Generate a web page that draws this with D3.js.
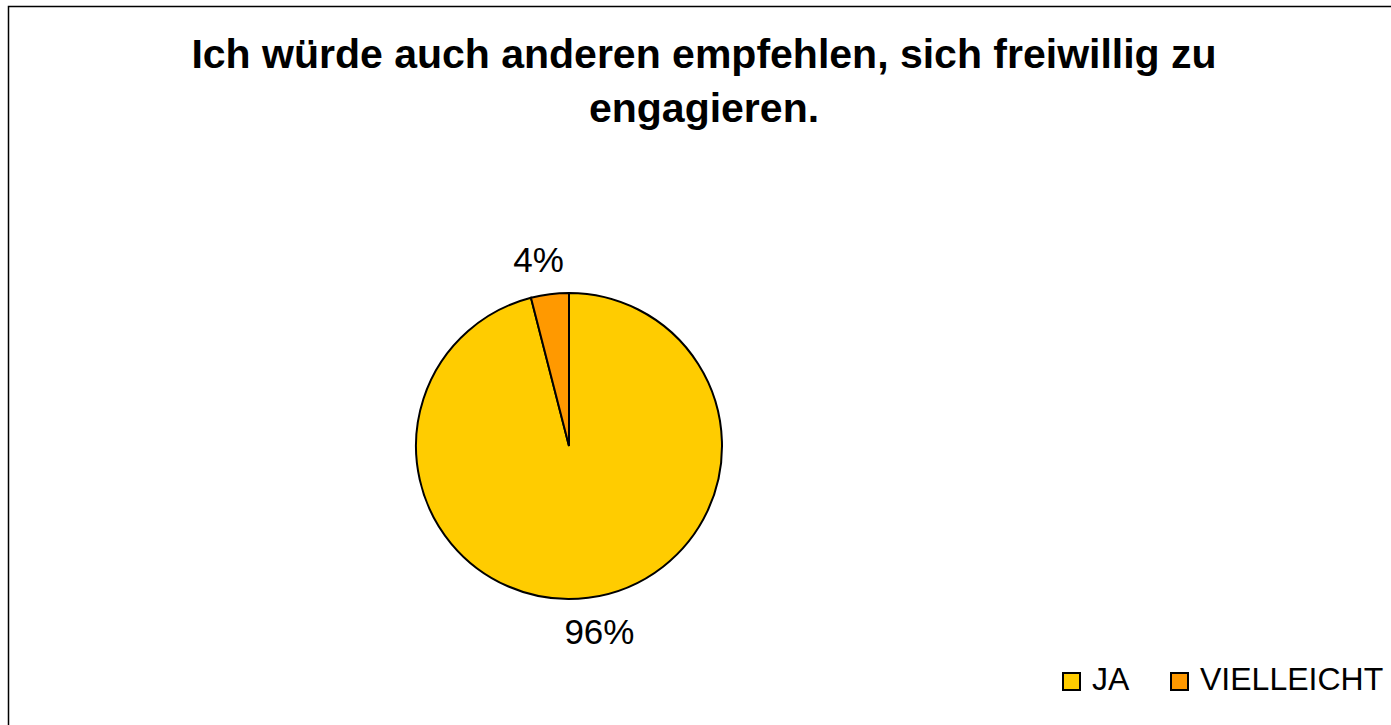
<!DOCTYPE html>
<html>
<head>
<meta charset="utf-8">
<script src="https://cdn.jsdelivr.net/npm/d3@7"></script>
<style>
  body { margin: 0; background: #fff; }
  svg { display: block; font-family: "Liberation Sans", Arial, sans-serif; }
</style>
</head>
<body>
<script>
const categories = ["JA", "VIELLEICHT"];
const values = [96, 4];
const labels = ["96%", "4%"];
const colors = ["#FFCC00", "#FF9900"];
const titleLines = ["Ich würde auch anderen empfehlen, sich freiwillig zu", "engagieren."];

let width = 1391, height = 725;
let svg = d3.select("body").append("svg").attr("width", width).attr("height", height);

// chart frame (right and bottom run off the picture)
svg.append("rect")
    .attr("x", 8.5).attr("y", 6.5)
    .attr("width", width + 10).attr("height", height + 10)
    .attr("fill", "#fff").attr("stroke", "#000").attr("stroke-width", 1.5);

svg.append("g").selectAll("text").data(titleLines).join("text")
    .attr("x", 704)
    .attr("y", (d, i) => 68 + i * 54)
    .attr("text-anchor", "middle")
    .attr("font-size", "41px")
    .attr("font-weight", "bold")
    .text(d => d);

let cx = 569, cy = 446, r = 153;
let pie = d3.pie().sort(null).value(d => d);
let arc = d3.arc().innerRadius(0).outerRadius(r);
let arcs = pie(values);

let g = svg.append("g").attr("transform", `translate(${cx},${cy})`);
g.selectAll("path").data(arcs).join("path")
    .attr("d", arc)
    .attr("fill", (d, i) => colors[i])
    .attr("stroke", "#000")
    .attr("stroke-width", 2);

// labels outside the slices
let labelArc = d3.arc().innerRadius(187).outerRadius(187);
g.selectAll("text").data(arcs).join("text")
    .attr("x", d => { let x = labelArc.centroid(d)[0]; return x + Math.sign(x) * 7; })
    .attr("y", d => labelArc.centroid(d)[1] + 12)
    .attr("text-anchor", "middle")
    .attr("font-size", "35px")
    .text((d, i) => labels[i]);

// legend
let legendX = [1062, 1170];
let lg = svg.append("g").selectAll("g").data(categories).join("g")
    .attr("transform", (d, i) => `translate(${legendX[i]},672)`);
lg.append("rect")
    .attr("x", 1).attr("y", 1).attr("width", 17).attr("height", 17)
    .attr("fill", (d, i) => colors[i]).attr("stroke", "#000").attr("stroke-width", 2);
lg.append("text")
    .attr("x", 30).attr("y", 18)
    .attr("font-size", "32px")
    .text(d => d);
</script>
</body>
</html>
